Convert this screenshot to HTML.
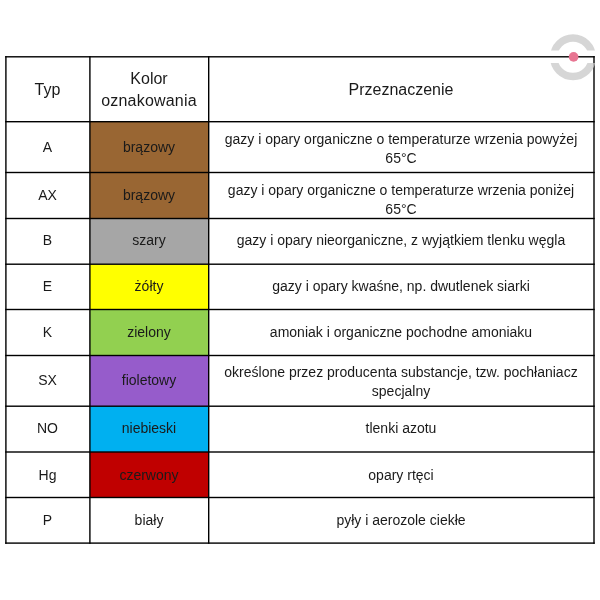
<!DOCTYPE html>
<html><head><meta charset="utf-8">
<style>
html,body{margin:0;padding:0;background:#fff;}
body{width:600px;height:600px;position:relative;overflow:hidden;font-family:"Liberation Sans",sans-serif;color:#1a1a1a;-webkit-font-smoothing:antialiased;}
div{position:absolute;}
.t{will-change:transform;text-align:center;height:20px;line-height:20px;font-size:14px;white-space:nowrap;}
.hd{font-size:16px;}
</style></head><body>

<svg style="position:absolute;left:0;top:0" width="600" height="600" viewBox="0 0 600 600">
<rect x="89.9" y="121.7" width="118.80" height="50.80" fill="#996633"/>
<rect x="89.9" y="172.5" width="118.80" height="46.00" fill="#996633"/>
<rect x="89.9" y="218.5" width="118.80" height="45.70" fill="#a6a6a6"/>
<rect x="89.9" y="264.2" width="118.80" height="45.30" fill="#ffff00"/>
<rect x="89.9" y="309.5" width="118.80" height="46.00" fill="#92d050"/>
<rect x="89.9" y="355.5" width="118.80" height="50.70" fill="#965ccb"/>
<rect x="89.9" y="406.2" width="118.80" height="45.80" fill="#00b0f0"/>
<rect x="89.9" y="452" width="118.80" height="45.50" fill="#c00000"/>
<rect x="5.20" y="56.10" width="589.50" height="1.4" fill="#000"/>
<rect x="5.20" y="121.00" width="589.50" height="1.4" fill="#000"/>
<rect x="5.20" y="171.80" width="589.50" height="1.4" fill="#000"/>
<rect x="5.20" y="217.80" width="589.50" height="1.4" fill="#000"/>
<rect x="5.20" y="263.50" width="589.50" height="1.4" fill="#000"/>
<rect x="5.20" y="308.80" width="589.50" height="1.4" fill="#000"/>
<rect x="5.20" y="354.80" width="589.50" height="1.4" fill="#000"/>
<rect x="5.20" y="405.50" width="589.50" height="1.4" fill="#000"/>
<rect x="5.20" y="451.30" width="589.50" height="1.4" fill="#000"/>
<rect x="5.20" y="496.80" width="589.50" height="1.4" fill="#000"/>
<rect x="5.20" y="542.40" width="589.50" height="1.4" fill="#000"/>
<rect x="5.20" y="56.10" width="1.4" height="487.70" fill="#000"/>
<rect x="89.20" y="56.10" width="1.4" height="487.70" fill="#000"/>
<rect x="208.00" y="56.10" width="1.4" height="487.70" fill="#000"/>
<rect x="593.30" y="56.10" width="1.4" height="487.70" fill="#000"/>
</svg>
<div class="t hd" style="left:6px;width:83px;top:80px;">Typ</div>
<div class="t hd" style="left:90px;width:118px;top:69px;">Kolor</div>
<div class="t hd" style="left:90px;width:118px;top:91.4px;letter-spacing:0.2px;">oznakowania</div>
<div class="t hd" style="left:209px;width:384px;top:80px;">Przeznaczenie</div>
<div class="t" style="left:6px;width:83px;top:137px;">A</div>
<div class="t" style="left:90px;width:118px;top:137px;">brązowy</div>
<div class="t" style="left:209px;width:384px;top:129px;">gazy i opary organiczne o temperaturze wrzenia powyżej</div>
<div class="t" style="left:209px;width:384px;top:148px;">65°C</div>
<div class="t" style="left:6px;width:83px;top:185px;">AX</div>
<div class="t" style="left:90px;width:118px;top:185px;">brązowy</div>
<div class="t" style="left:209px;width:384px;top:179.5px;">gazy i opary organiczne o temperaturze wrzenia poniżej</div>
<div class="t" style="left:209px;width:384px;top:198.5px;">65°C</div>
<div class="t" style="left:6px;width:83px;top:230px;">B</div>
<div class="t" style="left:90px;width:118px;top:230px;">szary</div>
<div class="t" style="left:209px;width:384px;top:230px;">gazy i opary nieorganiczne, z wyjątkiem tlenku węgla</div>
<div class="t" style="left:6px;width:83px;top:276px;">E</div>
<div class="t" style="left:90px;width:118px;top:276px;">żółty</div>
<div class="t" style="left:209px;width:384px;top:276px;">gazy i opary kwaśne, np. dwutlenek siarki</div>
<div class="t" style="left:6px;width:83px;top:322px;">K</div>
<div class="t" style="left:90px;width:118px;top:322px;">zielony</div>
<div class="t" style="left:209px;width:384px;top:322px;">amoniak i organiczne pochodne amoniaku</div>
<div class="t" style="left:6px;width:83px;top:370px;">SX</div>
<div class="t" style="left:90px;width:118px;top:370px;">fioletowy</div>
<div class="t" style="left:209px;width:384px;top:361.6px;">określone przez producenta substancje, tzw. pochłaniacz</div>
<div class="t" style="left:209px;width:384px;top:380.5px;">specjalny</div>
<div class="t" style="left:6px;width:83px;top:418px;">NO</div>
<div class="t" style="left:90px;width:118px;top:418px;">niebieski</div>
<div class="t" style="left:209px;width:384px;top:418px;">tlenki azotu</div>
<div class="t" style="left:6px;width:83px;top:464.5px;">Hg</div>
<div class="t" style="left:90px;width:118px;top:464.5px;">czerwony</div>
<div class="t" style="left:209px;width:384px;top:464.5px;">opary rtęci</div>
<div class="t" style="left:6px;width:83px;top:510px;">P</div>
<div class="t" style="left:90px;width:118px;top:510px;">biały</div>
<div class="t" style="left:209px;width:384px;top:510px;">pyły i aerozole ciekłe</div>
<svg style="position:absolute;left:0;top:0" width="600" height="100" viewBox="0 0 600 100">
<defs><clipPath id="cp"><rect x="540" y="20" width="60" height="30.6"/><rect x="540" y="63" width="60" height="30"/></clipPath></defs>
<circle cx="573" cy="57.2" r="19.25" fill="none" stroke="rgba(200,200,200,0.75)" stroke-width="7.5" clip-path="url(#cp)"/>
<circle cx="573.6" cy="56.9" r="4.85" fill="#e87592"/>
</svg>
</body></html>
